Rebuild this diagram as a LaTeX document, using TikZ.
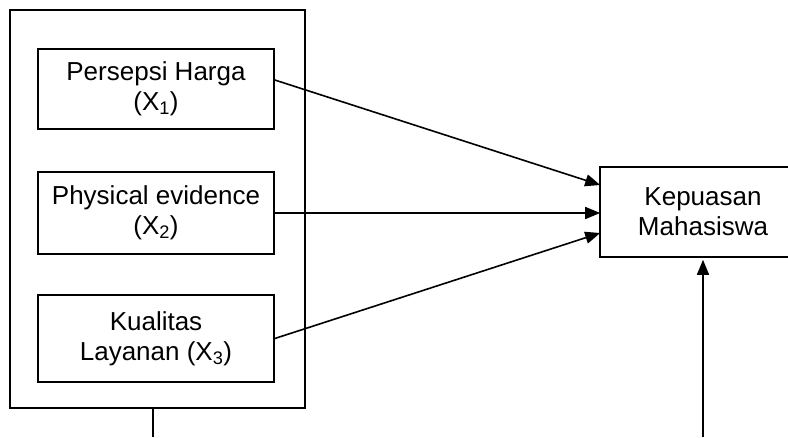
\documentclass[tikz,border=0pt]{standalone}
\usepackage{fontspec}
\setmainfont{Liberation Sans}
\usetikzlibrary{arrows.meta}
\begin{document}
\begin{tikzpicture}[x=1pt,y=-1pt,
  box/.style={draw,line width=1.6pt,rectangle,inner sep=0pt,align=center,font=\fontsize{26}{30}\selectfont},
  conn/.style={line width=1.6pt,-{Triangle[length=15pt,width=12pt]}},
  plain/.style={line width=1.6pt}]
\useasboundingbox (0,0) rectangle (788,437);
\clip (0,0) rectangle (788,437);
\node[box,minimum width=295pt,minimum height=398pt] (outer) at (157.5,209) {};
\node[box,minimum width=236pt,minimum height=80pt] (b1) at (156,89) {Persepsi Harga\\(X\textsubscript{1})};
\node[box,minimum width=236pt,minimum height=82pt] (b2) at (156,213) {Physical evidence\\(X\textsubscript{2})};
\node[box,minimum width=236pt,minimum height=87pt] (b3) at (156,338.5) {Kualitas\\Layanan (X\textsubscript{3})};
\node[box,draw=none,minimum width=204pt,minimum height=88pt] (k) at (703,212) {Kepuasan\\Mahasiswa};
\draw[plain] (k.north west) rectangle ([xshift=60pt]k.south east);
\draw[conn] ([yshift=9pt]b1.east) -- ([yshift=27pt]k.west);
\draw[conn] (b2.east) -- (b2.east -| k.west);
\draw[conn] (b3.east) -- ([yshift=-21pt]k.west);
\coordinate (c1) at (153,437);
\coordinate (c2) at (703,437);
\draw[plain] (outer.south -| c1) -- (c1);
\draw[conn] (c2) -- ([yshift=-3pt]k.south);
\end{tikzpicture}
\end{document}
